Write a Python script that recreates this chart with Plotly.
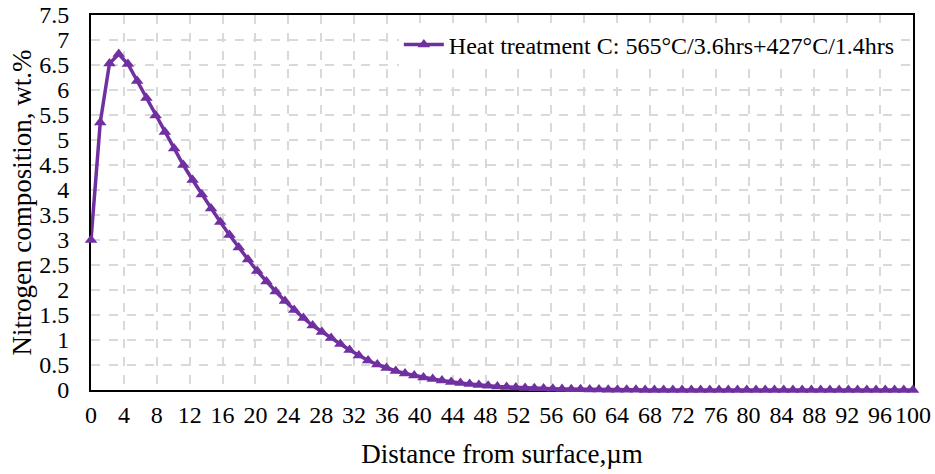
import plotly.graph_objects as go

# Distance from surface (um): 90 sample points, evenly spaced from 0 to 100
n_points = 90
distance_um = [round(i * 100 / (n_points - 1), 3) for i in range(n_points)]

# Nitrogen composition, wt.%
nitrogen_wt = [
    3.00, 5.35, 6.53, 6.72, 6.52, 6.18, 5.84, 5.49, 5.16, 4.83,
    4.50, 4.20, 3.91, 3.63, 3.36, 3.10, 2.85, 2.61, 2.38, 2.17,
    1.97, 1.78, 1.60, 1.44, 1.29, 1.16, 1.04, 0.92, 0.80, 0.69,
    0.59, 0.51, 0.44, 0.38, 0.33, 0.29, 0.25, 0.22, 0.19, 0.16,
    0.14, 0.12, 0.10, 0.085, 0.07, 0.06, 0.05, 0.042, 0.035, 0.029,
    0.024, 0.02, 0.016, 0.013, 0.01, 0.008, 0.006, 0.005, 0.004, 0.003,
    0.002, 0.002, 0.001, 0.001, 0.001, 0.0, 0.0, 0.0, 0.0, 0.0,
    0.0, 0.0, 0.0, 0.0, 0.0, 0.0, 0.0, 0.0, 0.0, 0.0,
    0.0, 0.0, 0.0, 0.0, 0.0, 0.0, 0.0, 0.0, 0.0, 0.0,
]

series_name = "Heat treatment C: 565°C/3.6hrs+427°C/1.4hrs"
x_tick_vals = list(range(0, 101, 4))
y_tick_vals = [i * 0.5 for i in range(16)]
y_tick_text = ["0", "0.5", "1", "1.5", "2", "2.5", "3", "3.5", "4", "4.5",
               "5", "5.5", "6", "6.5", "7", "7.5"]

FONT = "Liberation Serif, Times New Roman, serif"
PURPLE = "#7030A0"

fig = go.Figure()
fig.add_trace(go.Scatter(
    x=distance_um, y=nitrogen_wt, mode="lines+markers", name=series_name,
    line=dict(color=PURPLE, width=3.5),
    marker=dict(symbol="triangle-up", size=11, color=PURPLE),
    cliponaxis=False,
))

fig.update_layout(
    width=935, height=474,
    margin=dict(l=91, r=22, t=15, b=84, autoexpand=False),
    paper_bgcolor="white", plot_bgcolor="white",
    font=dict(family=FONT, size=24, color="black"),
    showlegend=True,
    legend=dict(x=0.984, xanchor="right", y=0.98, yanchor="top",
                bgcolor="white", font=dict(family=FONT, size=24),
                borderwidth=0, itemwidth=40, tracegroupgap=0),
)

fig.update_xaxes(
    range=[0, 100], tickvals=x_tick_vals, ticktext=[str(v) for v in x_tick_vals],
    showline=True, linecolor="black", linewidth=2, mirror=True,
    showgrid=True, gridcolor="#D9D9D9", griddash="dash", gridwidth=2,
    zeroline=False, ticks="", layer="below traces", automargin=False,
    tickfont=dict(family=FONT, size=24), ticklabelstandoff=2,
    ticklabeloverflow="allow",
    title=dict(text="Distance from surface,µm", font=dict(family=FONT, size=27), standoff=17),
)
fig.update_yaxes(
    range=[0, 7.5], tickvals=y_tick_vals, ticktext=y_tick_text,
    showline=True, linecolor="black", linewidth=2, mirror=True,
    showgrid=True, gridcolor="#D9D9D9", griddash="dash", gridwidth=2,
    zeroline=False, ticks="", layer="below traces", automargin=False,
    tickfont=dict(family=FONT, size=24), ticklabelstandoff=15,
    ticklabeloverflow="allow",
    title=dict(text="Nitrogen composition, wt.%", font=dict(family=FONT, size=27), standoff=0),
)

# remove the default page margin so the figure sits at the window's top-left corner
fig.write_html("out.html", config={"displayModeBar": False},
               post_script="document.body.style.margin='0';")
